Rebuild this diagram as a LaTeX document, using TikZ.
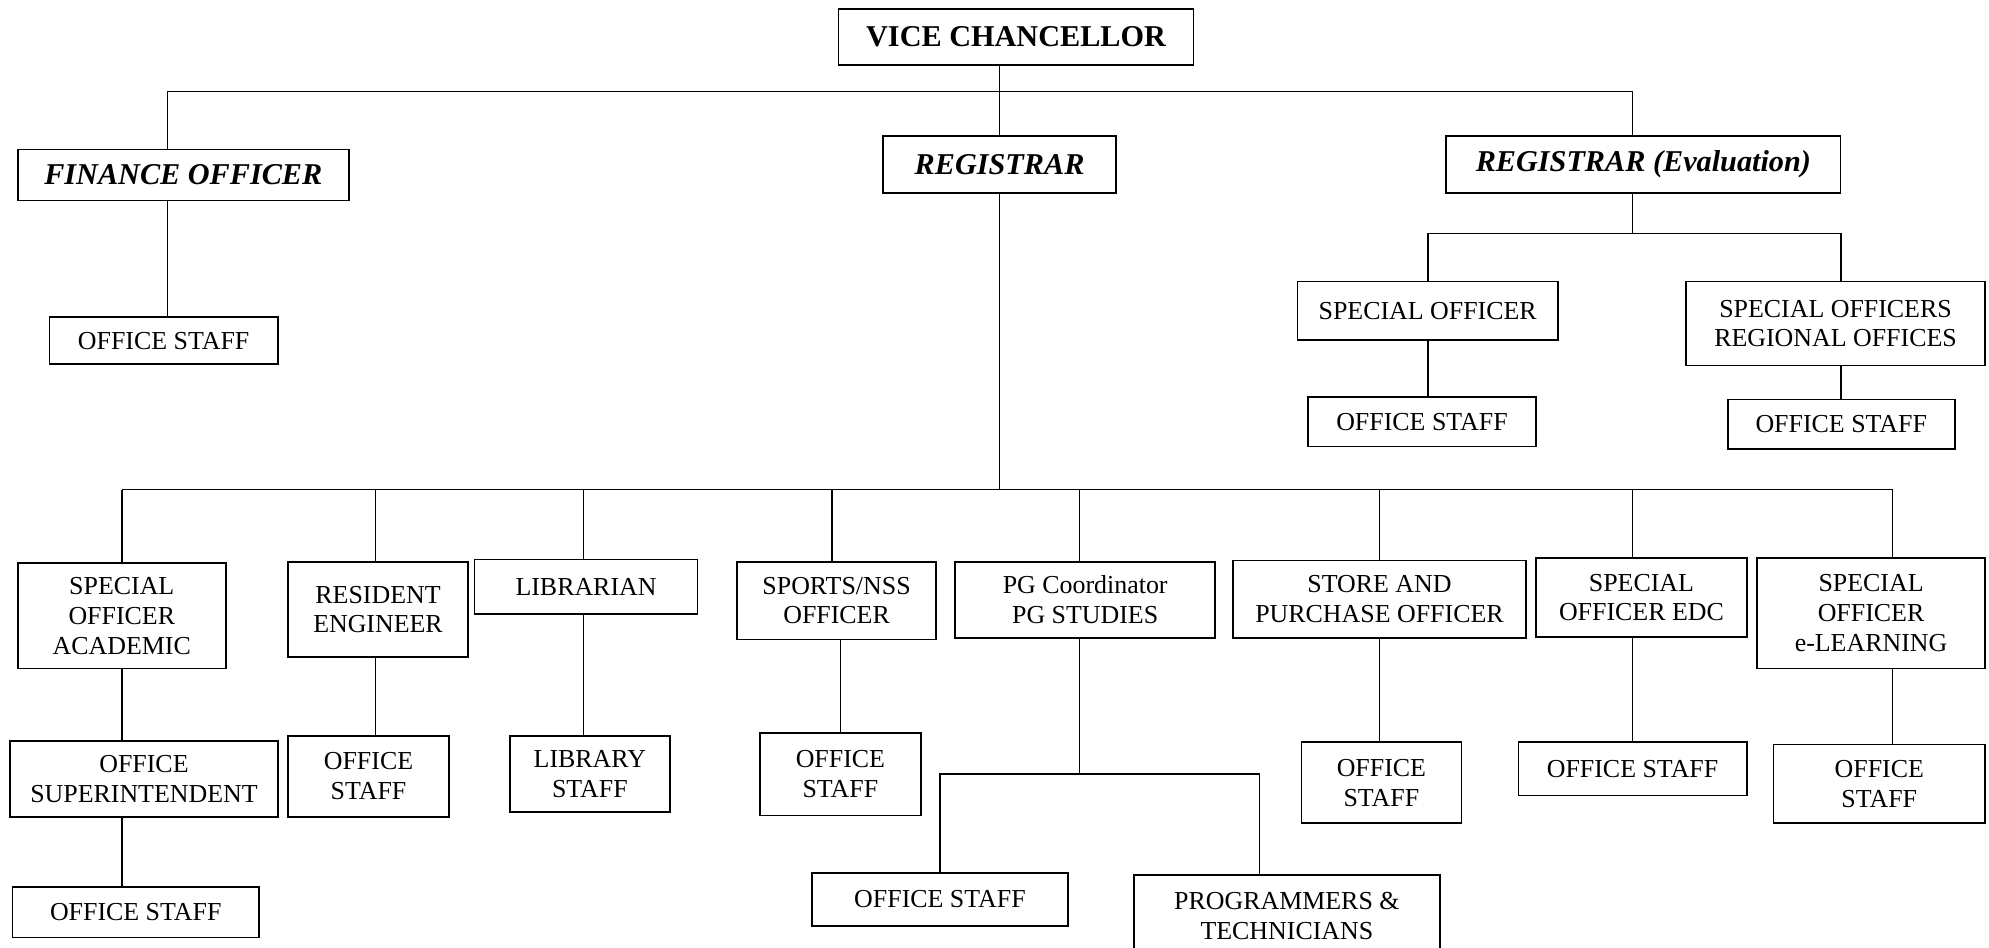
\documentclass[tikz,border=0pt]{standalone}
\usepackage{fontspec}
\setmainfont{Liberation Serif}
\usepackage{tikz}

\tikzset{
  postbox/.style 2 args={draw, line width=0.75pt, align=center, inner sep=0pt,
    minimum width=#1*0.5875pt, minimum height=#2*0.5875pt,
    font=\fontsize{12}{13.8}\selectfont},
  head/.style={font=\fontsize{14}{16}\selectfont\bfseries},
  chief/.style={font=\fontsize{14}{16}\selectfont\bfseries\itshape},
  link/.style={line width=0.75pt},
}

\begin{document}
\begin{tikzpicture}[x=0.5875pt, y=-0.5875pt]
        \useasboundingbox (0,0) rectangle (1568,747);
        % Top level
        \node[postbox={280}{44}, head] (vc) at (801,29) {VICE CHANCELLOR};
        \node[postbox={261}{40}, chief] (fin) at (144.5,138) {FINANCE OFFICER};
        \node[postbox={184}{45}, chief] (reg) at (788,129.5) {REGISTRAR};
        \node[postbox={311}{45}, chief] (eval) at (1295.5,129.5) {REGISTRAR (Evaluation)};
        % Finance and evaluation wings
        \node[postbox={180}{37}] (finstaff) at (129,268.5) {OFFICE STAFF};
        \node[postbox={205}{46}] (spo) at (1125.5,245) {SPECIAL OFFICER};
        \node[postbox={236}{66}] (spro) at (1447,255) {SPECIAL OFFICERS\\REGIONAL OFFICES};
        \node[postbox={180}{39}] (spostaff) at (1121,332.5) {OFFICE STAFF};
        \node[postbox={179}{39}] (sprostaff) at (1451.5,334.5) {OFFICE STAFF};
        % Sections under the registrar
        \node[postbox={164}{83}] (acad) at (96,485.5) {SPECIAL\\OFFICER\\ACADEMIC};
        \node[postbox={142}{75}] (resid) at (298,480.5) {RESIDENT\\ENGINEER};
        \node[postbox={176}{43}] (lib) at (462,462.5) {LIBRARIAN};
        \node[postbox={157}{61}] (sports) at (659.5,473.5) {SPORTS/NSS\\OFFICER};
        \node[postbox={205}{60}] (pg) at (855.5,473) {PG Coordinator\\PG STUDIES};
        \node[postbox={231}{61}] (store) at (1087.5,472.5) {STORE AND\\PURCHASE OFFICER};
        \node[postbox={166}{62}] (edc) at (1294,471) {SPECIAL\\OFFICER EDC};
        \node[postbox={180}{87}] (elearn) at (1475,483.5) {SPECIAL\\OFFICER\\e-LEARNING};
        % Staff of the sections
        \node[postbox={211}{60}] (supt) at (113.5,614) {OFFICE\\SUPERINTENDENT};
        \node[postbox={127}{64}] (residstaff) at (290.5,612) {OFFICE\\STAFF};
        \node[postbox={126}{60}] (libstaff) at (465,610) {LIBRARY\\STAFF};
        \node[postbox={127}{65}] (sportsstaff) at (662.5,610.5) {OFFICE\\STAFF};
        \node[postbox={126}{64}] (storestaff) at (1089,617) {OFFICE\\STAFF};
        \node[postbox={180}{42}] (edcstaff) at (1287,606) {OFFICE STAFF};
        \node[postbox={167}{62}] (elearnstaff) at (1481.5,618) {OFFICE\\STAFF};
        \node[postbox={194}{40}] (suptstaff) at (107,719) {OFFICE STAFF};
        \node[postbox={202}{42}] (pgstaff) at (741,709) {OFFICE STAFF};
        \node[postbox={241}{64}] (prog) at (1014.5,722) {PROGRAMMERS \&\\TECHNICIANS};
        % Bus lines and stems
        \coordinate (topbus) at (0,72);
        \coordinate (evalbus) at (0,184);
        \coordinate (midbus) at (0,386);
        \coordinate (pgbus) at (0,610);
        \coordinate (xfin) at (132,0);
        \coordinate (xeval) at (1287,0);
        \coordinate (xresid) at (296,0);
        \coordinate (xlib) at (460,0);
        \coordinate (xsports) at (656,0);
        \coordinate (xpg) at (851,0);
        \coordinate (xprog) at (993,0);
        \coordinate (xelearn) at (1492,0);
        % Vice chancellor to officers
        \draw[link] (reg.north |- vc.south) -- (reg.north);
        \draw[link] (xfin |- fin.north) |- (xeval |- topbus) -- (xeval |- eval.north);
        \draw[link] (xfin |- fin.south) -- (xfin |- finstaff.north);
        % Evaluation
        \draw[link] (xeval |- eval.south) -- (xeval |- evalbus);
        \draw[link] (spo.north) |- (sprostaff.north |- evalbus) -- (sprostaff.north |- spro.north);
        \draw[link] (spo.south) -- (spo.south |- spostaff.north);
        \draw[link] (sprostaff.north |- spro.south) -- (sprostaff.north);
        % Registrar
        \draw[link] (reg.south) -- (reg.south |- midbus);
        \draw[link] (acad.north |- midbus) -- (xelearn |- midbus) -- (xelearn |- elearn.north);
        \draw[link] (acad.north |- midbus) -- (acad.north);
        \foreach \s/\n in {xresid/resid, xlib/lib, xsports/sports, xpg/pg, store/store, xeval/edc}
          \draw[link] (\s |- midbus) -- (\s |- \n.north);
        % Down to the staff
        \draw[link] (acad.south) -- (acad.south |- supt.north);
        \draw[link] (acad.south |- supt.south) -- (acad.south |- suptstaff.north);
        \draw[link] (xresid |- resid.south) -- (xresid |- residstaff.north);
        \draw[link] (xlib |- lib.south) -- (xlib |- libstaff.north);
        \draw[link] (sportsstaff.north |- sports.south) -- (sportsstaff.north);
        \draw[link] (xpg |- pg.south) -- (xpg |- pgbus);
        \draw[link] (pgstaff.north) |- (xprog |- pgbus) -- (xprog |- prog.north);
        \draw[link] (store.south) -- (store.south |- storestaff.north);
        \draw[link] (edcstaff.north |- edc.south) -- (edcstaff.north);
        \draw[link] (xelearn |- elearn.south) -- (xelearn |- elearnstaff.north);
      \end{tikzpicture}
\end{document}
